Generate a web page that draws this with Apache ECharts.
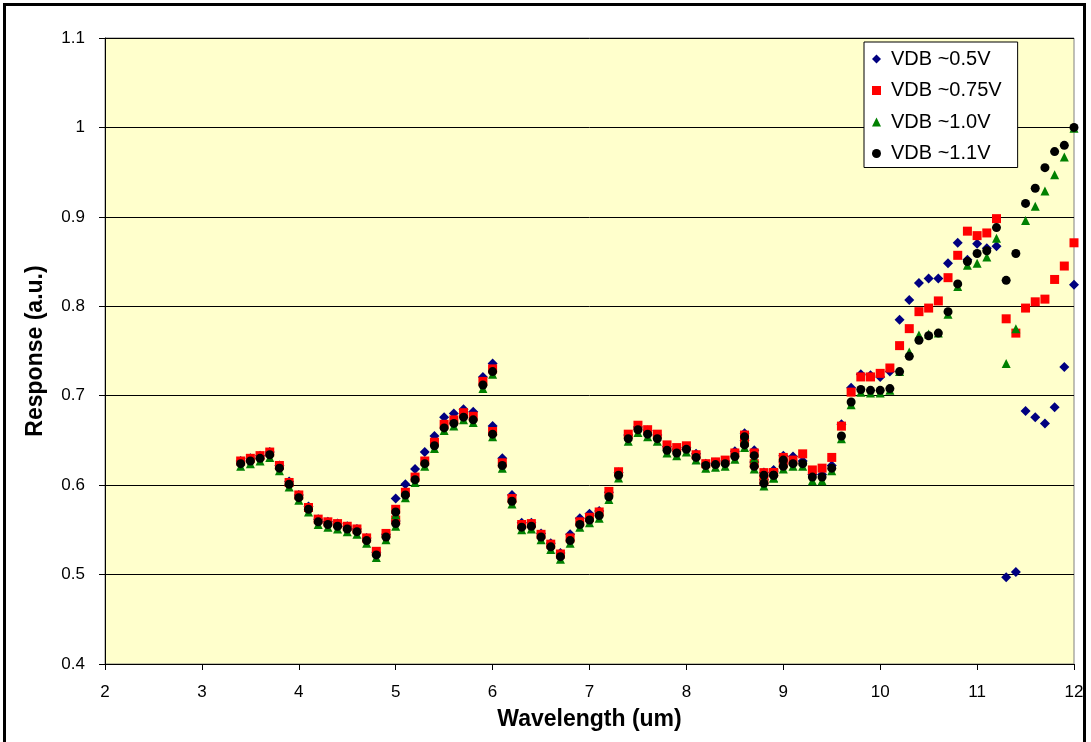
<!DOCTYPE html>
<html>
<head>
<meta charset="utf-8">
<title>Response vs Wavelength</title>
<script src="https://cdn.jsdelivr.net/npm/echarts@6/dist/echarts.min.js"></script>
<style>
  html, body { margin: 0; padding: 0; background: #ffffff; overflow: hidden; }
  #chart { position: absolute; left: 0; top: 0; width: 1091px; height: 742px; }
  #frame { position: absolute; left: 3px; top: 3px; width: 1083px; height: 760px;
           border: 3px solid #000; box-sizing: border-box; pointer-events: none; }
</style>
</head>
<body>
<div id="chart"></div>
<div id="frame"></div>
<script>
// Wavelength grid (um): four scans, neighbouring scans overlap at their ends
const wavelengths = [
  3.4, 3.5, 3.6, 3.7, 3.8, 3.9, 4.0, 4.1, 4.2, 4.3, 4.4, 4.5, 4.6, 4.7, 4.8, 4.9, 5.0,
  5.0, 5.1, 5.2, 5.3, 5.4, 5.5, 5.6, 5.7, 5.8, 5.9, 6.0,
  6.0, 6.1, 6.2, 6.3, 6.4, 6.5, 6.6, 6.7, 6.8, 6.9, 7.0, 7.1, 7.2, 7.3, 7.4, 7.5, 7.6, 7.7,
  7.8, 7.9, 8.0, 8.1, 8.2, 8.3, 8.4, 8.5, 8.6, 8.7, 8.8, 8.9, 9.0,
  8.6, 8.7, 8.8, 8.9, 9.0, 9.1, 9.2, 9.3, 9.4, 9.5, 9.6, 9.7, 9.8, 9.9, 10.0, 10.1, 10.2,
  10.3, 10.4, 10.5, 10.6, 10.7, 10.8, 10.9, 11.0, 11.1, 11.2, 11.3, 11.4, 11.5, 11.6, 11.7,
  11.8, 11.9, 12.0
];

const vdb05 = [
  0.627, 0.630, 0.633, 0.637, 0.622, 0.604, 0.589, 0.576, 0.562, 0.559, 0.557, 0.554, 0.551, 0.541, 0.525, 0.545, 0.560,
  0.585, 0.601, 0.618, 0.637, 0.655, 0.676, 0.680, 0.685, 0.682, 0.721, 0.736,
  0.666, 0.630, 0.589, 0.558, 0.558, 0.546, 0.535, 0.524, 0.545, 0.563, 0.568, 0.571, 0.592, 0.614, 0.656, 0.665, 0.661, 0.656,
  0.643, 0.640, 0.642, 0.635, 0.624, 0.625, 0.627, 0.638, 0.658, 0.639, 0.614, 0.617, 0.633,
  0.650, 0.626, 0.606, 0.615, 0.626, 0.632, 0.627, 0.612, 0.612, 0.622, 0.668, 0.709, 0.724, 0.723, 0.721, 0.727, 0.785,
  0.807, 0.826, 0.831, 0.831, 0.848, 0.871, 0.852, 0.870, 0.865, 0.867, 0.497, 0.503, 0.683, 0.676, 0.669,
  0.687, 0.732, 0.824
];

const vdb075 = [
  0.627, 0.630, 0.633, 0.637, 0.622, 0.603, 0.589, 0.575, 0.562, 0.559, 0.557, 0.554, 0.551, 0.541, 0.526, 0.546, 0.561,
  0.573, 0.592, 0.609, 0.627, 0.648, 0.668, 0.673, 0.681, 0.677, 0.716, 0.730,
  0.660, 0.625, 0.585, 0.556, 0.557, 0.545, 0.534, 0.523, 0.541, 0.559, 0.564, 0.570, 0.593, 0.615, 0.657, 0.667, 0.662, 0.657,
  0.645, 0.642, 0.644, 0.634, 0.624, 0.626, 0.628, 0.636, 0.656, 0.636, 0.614, 0.614, 0.631,
  0.648, 0.624, 0.605, 0.614, 0.624, 0.628, 0.635, 0.617, 0.619, 0.631, 0.666, 0.704, 0.721, 0.721, 0.725, 0.731, 0.756,
  0.775, 0.794, 0.798, 0.806, 0.832, 0.857, 0.884, 0.879, 0.882, 0.898, 0.786, 0.770, 0.798, 0.805, 0.808,
  0.830, 0.845, 0.871
];

const vdb10 = [
  0.621, 0.624, 0.627, 0.631, 0.616, 0.598, 0.583, 0.570, 0.556, 0.553, 0.551, 0.548, 0.545, 0.535, 0.519, 0.539, 0.554,
  0.567, 0.586, 0.603, 0.621, 0.641, 0.661, 0.666, 0.673, 0.670, 0.708, 0.724,
  0.654, 0.619, 0.579, 0.550, 0.551, 0.539, 0.528, 0.517, 0.535, 0.553, 0.558, 0.563, 0.584, 0.608, 0.649, 0.659, 0.654, 0.649,
  0.636, 0.633, 0.637, 0.628, 0.619, 0.620, 0.621, 0.629, 0.651, 0.630, 0.608, 0.608, 0.625,
  0.642, 0.618, 0.599, 0.608, 0.618, 0.621, 0.621, 0.605, 0.605, 0.616, 0.652, 0.690, 0.704, 0.703, 0.703, 0.706, 0.727,
  0.749, 0.768, 0.769, 0.770, 0.791, 0.822, 0.846, 0.848, 0.855, 0.876, 0.736, 0.775, 0.896, 0.912, 0.929,
  0.947, 0.967, 0.999
];

const vdb11 = [
  0.624, 0.627, 0.630, 0.634, 0.619, 0.601, 0.586, 0.573, 0.559, 0.556, 0.554, 0.551, 0.548, 0.538, 0.522, 0.542, 0.557,
  0.570, 0.589, 0.606, 0.624, 0.644, 0.664, 0.669, 0.676, 0.673, 0.712, 0.727,
  0.657, 0.622, 0.582, 0.553, 0.554, 0.542, 0.531, 0.520, 0.538, 0.556, 0.561, 0.566, 0.587, 0.611, 0.652, 0.662, 0.657, 0.652,
  0.639, 0.636, 0.640, 0.631, 0.622, 0.623, 0.624, 0.632, 0.654, 0.633, 0.611, 0.611, 0.628,
  0.645, 0.621, 0.602, 0.611, 0.621, 0.624, 0.624, 0.609, 0.609, 0.619, 0.655, 0.693, 0.707, 0.706, 0.706, 0.708, 0.727,
  0.744, 0.762, 0.767, 0.770, 0.794, 0.825, 0.850, 0.859, 0.862, 0.888, 0.829, 0.859, 0.915, 0.932, 0.955,
  0.973, 0.980, 1.000
];

const seriesNames = ['VDB ~0.5V', 'VDB ~0.75V', 'VDB ~1.0V', 'VDB ~1.1V'];

const FONT = '"Liberation Sans", Arial, sans-serif';

function pairs(vals) {
  return wavelengths.map((w, i) => [w, vals[i]]);
}

function scatter(name, vals, symbol, size, color) {
  return {
    name: name,
    type: 'scatter',
    data: pairs(vals),
    symbol: symbol,
    symbolSize: size,
    itemStyle: { color: color, opacity: 1 },
    emphasis: { disabled: true },
    animation: false
  };
}

const chart = echarts.init(document.getElementById('chart'), null, { renderer: 'canvas' });

chart.setOption({
  backgroundColor: '#ffffff',
  animation: false,
  textStyle: { fontFamily: FONT },
  grid: {
    left: 105, right: 17, top: 38, bottom: 78,
    show: true,
    backgroundColor: '#FFFFCC',
    borderColor: '#808080',
    borderWidth: 1
  },
  legend: {
    orient: 'vertical',
    left: 864,
    top: 42,
    data: seriesNames,
    itemWidth: 9,
    itemHeight: 9,
    itemGap: 11.5,
    padding: [7, 16, 4, 8],
    backgroundColor: '#ffffff',
    borderColor: '#000000',
    borderWidth: 1,
    selectedMode: false,
    textStyle: { fontFamily: FONT, fontSize: 20, color: '#000', lineHeight: 20, padding: [0, 0, 0, 5] }
  },
  xAxis: {
    type: 'value',
    min: 2, max: 12, interval: 1,
    name: 'Wavelength (um)',
    nameLocation: 'middle',
    nameGap: 44,
    nameTextStyle: { fontFamily: FONT, fontSize: 23, fontWeight: 'bold', color: '#000' },
    axisLine: { show: true, onZero: false, lineStyle: { color: '#000', width: 1 } },
    axisTick: { show: true, length: 6, lineStyle: { color: '#000' } },
    axisLabel: { fontFamily: FONT, fontSize: 17, color: '#000', margin: 20 },
    splitLine: { show: false }
  },
  yAxis: {
    type: 'value',
    min: 0.4, max: 1.1, interval: 0.1,
    name: 'Response (a.u.)',
    nameLocation: 'middle',
    nameGap: 58,
    nameRotate: 90,
    nameTextStyle: { fontFamily: FONT, fontSize: 23, fontWeight: 'bold', color: '#000' },
    axisLine: { show: true, onZero: false, lineStyle: { color: '#000', width: 1 } },
    axisTick: { show: true, length: 6, lineStyle: { color: '#000' } },
    axisLabel: {
      fontFamily: FONT, fontSize: 17, color: '#000', margin: 20,
      formatter: v => String(+v.toFixed(1))
    },
    splitLine: { show: true, lineStyle: { color: '#000', width: 1 } }
  },
  series: [
    scatter(seriesNames[0], vdb05, 'diamond', 10, '#000080'),
    scatter(seriesNames[1], vdb075, 'rect', 9, '#FF0000'),
    scatter(seriesNames[2], vdb10, 'triangle', 9, '#008000'),
    scatter(seriesNames[3], vdb11, 'circle', 9, '#000000')
  ]
});
</script>
</body>
</html>
